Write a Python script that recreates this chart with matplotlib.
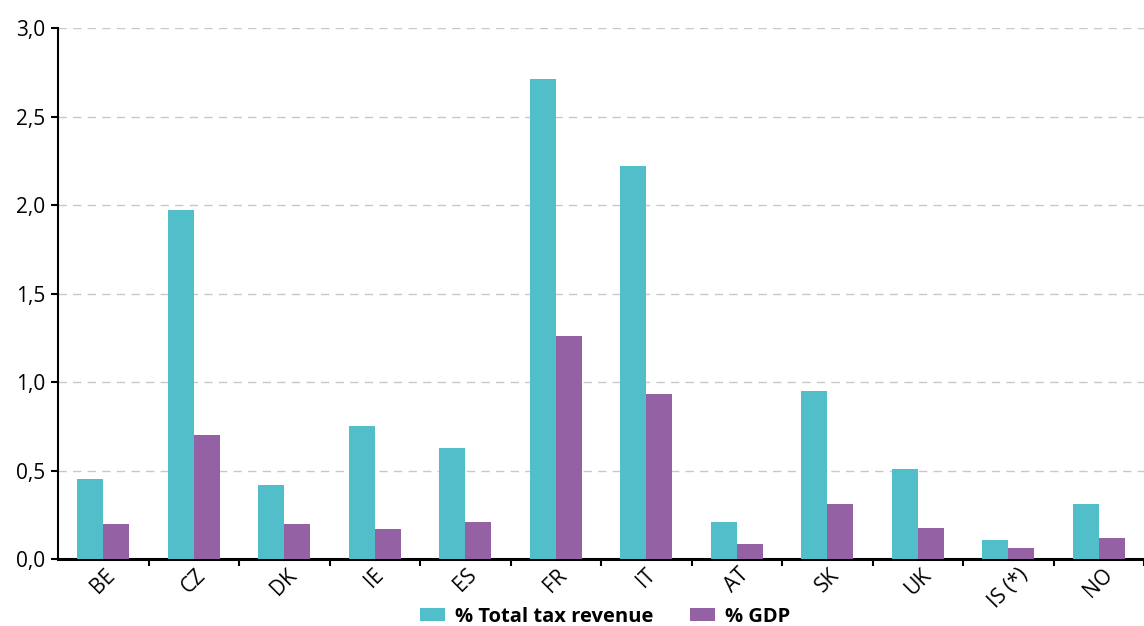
import matplotlib.pyplot as plt
import numpy as np
from matplotlib.ticker import FuncFormatter, MultipleLocator

plt.rcParams['font.family'] = ['Open Sans', 'DejaVu Sans']

paises = ['BE', 'CZ', 'DK', 'IE', 'ES', 'FR', 'IT', 'AT', 'SK', 'UK', 'IS (*)', 'NO']
pct_receita = [0.45, 1.97, 0.42, 0.75, 0.63, 2.71, 2.22, 0.21, 0.95, 0.51, 0.11, 0.31]
pct_pib = [0.20, 0.70, 0.20, 0.17, 0.21, 1.26, 0.93, 0.085, 0.31, 0.175, 0.06, 0.12]

cor_receita = '#52BEC9'
cor_pib = '#9461A4'

fig = plt.figure(figsize=(11.44, 6.26), dpi=100)
ax = fig.add_axes([0.0507, 0.107, 0.9493, 0.848])

x = np.arange(len(paises))
larg = 0.29
ax.bar(x - larg / 2, pct_receita, larg, color=cor_receita, label='% Total tax revenue', zorder=3)
ax.bar(x + larg / 2, pct_pib, larg, color=cor_pib, label='% GDP', zorder=3)

ax.set_xlim(-0.5, len(paises) - 0.5)
ax.set_ylim(0, 3.0)
ax.yaxis.set_major_locator(MultipleLocator(0.5))
ax.yaxis.set_major_formatter(FuncFormatter(lambda v, p: f'{v:.1f}'.replace('.', ',')))
ax.grid(axis='y', color='#c8c8c8', linestyle=(0, (6, 4.5)), linewidth=1, zorder=0)

ax.set_xticks(x)
ax.set_xticklabels(paises, rotation=45, ha='center', va='top', fontsize=15)
ax.set_xticks(np.arange(len(paises)) + 0.5, minor=True)
ax.tick_params(axis='x', which='major', length=0, pad=4)
ax.tick_params(axis='x', which='minor', length=5, width=1.5, direction='out')
ax.tick_params(axis='y', length=5, width=1.5, labelsize=15, pad=4)

for lado in ['top', 'right']:
    ax.spines[lado].set_visible(False)
ax.spines['left'].set_linewidth(1.5)
ax.spines['bottom'].set_linewidth(2.2)

leg = fig.legend(loc='center', bbox_to_anchor=(0.529, 0.0144), ncol=2, frameon=False,
                 prop={'weight': 'bold', 'size': 14.5}, handlelength=1.2, handleheight=0.6,
                 columnspacing=1.85, handletextpad=0.5)

plt.savefig('out.png', dpi=100)
